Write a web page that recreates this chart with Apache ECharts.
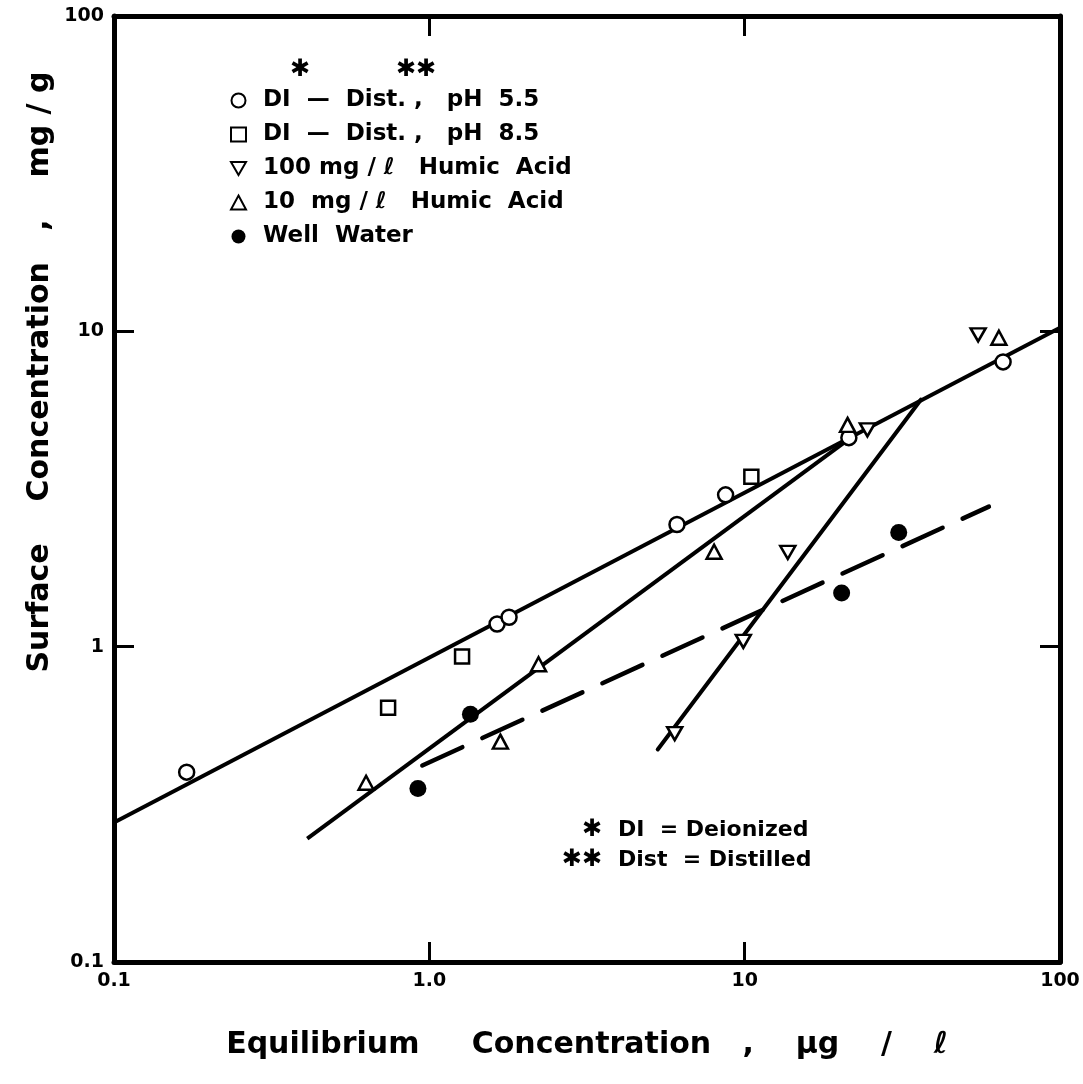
<!DOCTYPE html>
<html><head><meta charset="utf-8">
<script src="https://cdn.jsdelivr.net/npm/echarts@6/dist/echarts.min.js"></script>
<style>html,body{margin:0;padding:0;background:#fff}#c{width:1083px;height:1084px}</style>
</head><body><div id="c"></div>
<script>
// ---- tick labels ----
const xTickLabels = ['0.1', '1.0', '10', '100'];
const yTickLabels = ['0.1', '1', '10', '100'];

// ---- series names ----
const seriesNames = ['DI  —  Dist. ,   pH  5.5', 'DI  —  Dist. ,   pH  8.5', '100 mg / ℓ   Humic  Acid', '10  mg / ℓ   Humic  Acid', 'Well  Water'];

// ---- data (Equilibrium conc. µg/ℓ, Surface conc. mg/g) ----
const ph55X = [0.17, 1.64, 1.79, 6.1, 8.7, 21.4, 66];
const ph55Y = [0.40, 1.18, 1.24, 2.44, 3.03, 4.6, 8.0];
const ph85X = [0.74, 1.27, 10.5];
const ph85Y = [0.64, 0.93, 3.46];
const humic100X = [6.0, 9.9, 13.7, 24.5, 55];
const humic100Y = [0.53, 1.04, 1.99, 4.87, 9.75];
const humic10X = [0.63, 1.68, 2.22, 8.0, 21.2, 64];
const humic10Y = [0.37, 0.50, 0.88, 2.0, 5.05, 9.54];
const wellX = [0.92, 1.35, 20.3, 30.8];
const wellY = [0.355, 0.61, 1.48, 2.30];

// ---- fitted lines ----
const fitDIX = [0.1, 100];
const fitDIY = [0.277, 10.26];
const fit10X = [0.41, 21.4];
const fit10Y = [0.246, 4.55];
const fit100X = [5.3, 36.2];
const fit100Y = [0.472, 6.07];
const fitWellX = [0.95, 59.5];
const fitWellY = [0.42, 2.78];

const pairs = (xs, ys) => xs.map((x, i) => [x, ys[i]]);
const FONT = 'DejaVu Sans';
const idx = v => Math.round(Math.log10(v)) + 1;

const chart = echarts.init(document.getElementById('c'), null, {renderer: 'canvas'});

const hollow = {color: '#fff', borderColor: '#000', borderWidth: 2.5, opacity: 1};
const lineBase = {type: 'line', symbol: 'none', silent: true, z: 2, animation: false};
const tickStyle = {show: true, inside: true, length: 20, lineStyle: {color: '#000', width: 3}};
const frame = {show: true, lineStyle: {color: '#000', width: 5}};

const option = {
  backgroundColor: '#fff',
  animation: false,
  grid: {left: 114, right: 23, top: 16, bottom: 122, show: false},
  xAxis: [{
    type: 'log', logBase: 10, min: 0.1, max: 100, position: 'bottom',
    axisLine: frame, axisTick: tickStyle, minorTick: {show: false}, splitLine: {show: false},
    axisLabel: {show: true, showMinLabel: true, showMaxLabel: true, margin: 10, color: '#000', fontSize: 19, fontWeight: 'bold', fontFamily: FONT,
      formatter: v => xTickLabels[idx(v)]},
    name: 'Equilibrium     Concentration   ,    μg    /    ℓ',
    nameLocation: 'middle', nameGap: 68,
    nameTextStyle: {color: '#000', fontSize: 30, fontWeight: 'bold', fontFamily: FONT}
  }, {
    type: 'log', logBase: 10, min: 0.1, max: 100, position: 'top',
    axisLine: frame, axisTick: tickStyle, splitLine: {show: false}, axisLabel: {show: false}
  }],
  yAxis: [{
    type: 'log', logBase: 10, min: 0.1, max: 100, position: 'left',
    axisLine: frame, axisTick: tickStyle, splitLine: {show: false},
    axisLabel: {show: true, showMinLabel: true, showMaxLabel: true, margin: 10, color: '#000', fontSize: 19, fontWeight: 'bold', fontFamily: FONT,
      formatter: v => yTickLabels[idx(v)]}
  }, {
    type: 'log', logBase: 10, min: 0.1, max: 100, position: 'right',
    axisLine: frame, axisTick: tickStyle, splitLine: {show: false}, axisLabel: {show: false}
  }],
  legend: {
    orient: 'vertical', left: 225, top: 84, itemWidth: 15, itemHeight: 14, itemGap: 11,
    selectedMode: false,
    textStyle: {color: '#000', fontSize: 23, fontWeight: 'bold', fontFamily: FONT, padding: [0, 0, 0, 12]},
    data: seriesNames
  },
  series: [
    Object.assign({}, lineBase, {name: 'fitDI', data: pairs(fitDIX, fitDIY), lineStyle: {color: '#000', width: 4, opacity: 1}}),
    Object.assign({}, lineBase, {name: 'fit10', data: pairs(fit10X, fit10Y), lineStyle: {color: '#000', width: 4, opacity: 1}}),
    Object.assign({}, lineBase, {name: 'fit100', data: pairs(fit100X, fit100Y), lineStyle: {color: '#000', width: 4, cap: 'round', opacity: 1}}),
    Object.assign({}, lineBase, {name: 'fitWell', data: pairs(fitWellX, fitWellY), lineStyle: {color: '#000', width: 4.5, type: [44, 22], cap: 'round', opacity: 1}}),
    {type: 'scatter', name: seriesNames[0], data: pairs(ph55X, ph55Y), symbol: 'circle', symbolSize: 15, itemStyle: hollow, z: 5},
    {type: 'scatter', name: seriesNames[1], data: pairs(ph85X, ph85Y), symbol: 'rect', symbolSize: 14, itemStyle: hollow, z: 5},
    {type: 'scatter', name: seriesNames[2], data: pairs(humic100X, humic100Y), symbol: 'path://M0,0L14,0L7,12Z', symbolSize: [15, 13], itemStyle: hollow, z: 5},
    {type: 'scatter', name: seriesNames[3], data: pairs(humic10X, humic10Y), symbol: 'triangle', symbolSize: [15, 14], itemStyle: hollow, z: 5},
    {type: 'scatter', name: seriesNames[4], data: pairs(wellX, wellY), symbol: 'circle', symbolSize: 17, itemStyle: {color: '#000', opacity: 1}, z: 5}
  ],
  graphic: [
    {type: 'text', x: 40, y: 372, rotation: Math.PI / 2,
      style: {text: 'Surface    Concentration   ,    mg / g', fontSize: 30, fontWeight: 'bold', fontFamily: FONT, fill: '#000', align: 'center', verticalAlign: 'middle', textAlign: 'center', textVerticalAlign: 'middle'}},
    {type: 'text', x: 300, y: 70, style: {text: '✱', fontSize: 24, fontFamily: FONT, fill: '#000', align: 'center', verticalAlign: 'middle'}},
    {type: 'text', x: 416, y: 70, style: {text: '✱✱', fontSize: 24, fontFamily: FONT, fill: '#000', align: 'center', verticalAlign: 'middle'}},
    {type: 'text', x: 602, y: 830, style: {text: '✱', fontSize: 24, fontFamily: FONT, fill: '#000', align: 'right', verticalAlign: 'middle'}},
    {type: 'text', x: 618, y: 830, style: {text: 'DI  = Deionized', fontSize: 22, fontWeight: 'bold', fontFamily: FONT, fill: '#000', align: 'left', verticalAlign: 'middle'}},
    {type: 'text', x: 602, y: 860, style: {text: '✱✱', fontSize: 24, fontFamily: FONT, fill: '#000', align: 'right', verticalAlign: 'middle'}},
    {type: 'text', x: 618, y: 860, style: {text: 'Dist  = Distilled', fontSize: 22, fontWeight: 'bold', fontFamily: FONT, fill: '#000', align: 'left', verticalAlign: 'middle'}}
  ]
};
chart.setOption(option);
</script>
</body></html>
